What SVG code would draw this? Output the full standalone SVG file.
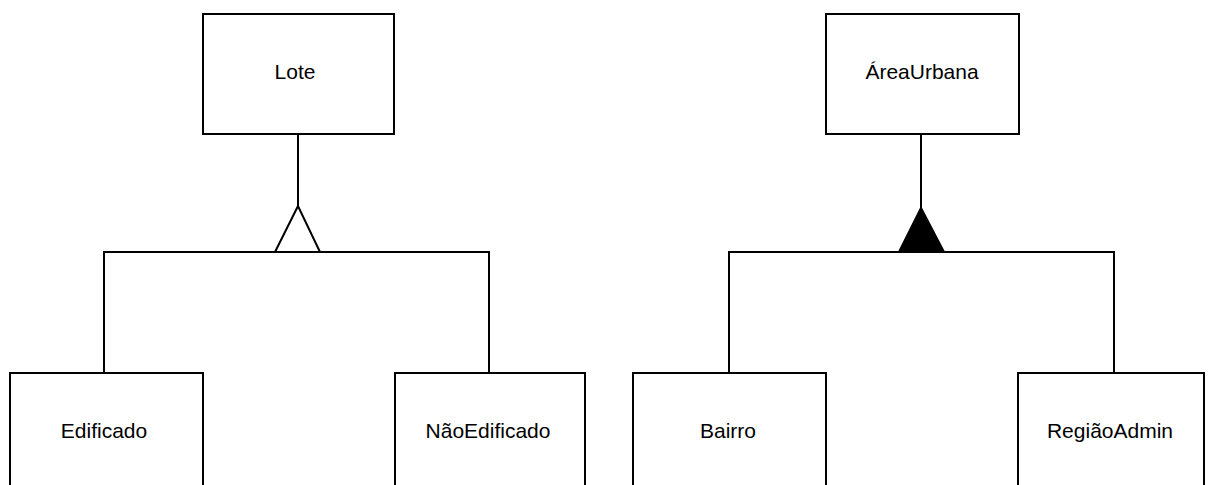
<svg xmlns="http://www.w3.org/2000/svg" width="1210" height="485" viewBox="0 0 1210 485">
  <style>
    .box { fill: #ffffff; stroke: #000000; stroke-width: 2; }
    .lbl { font-family: "Liberation Sans", Arial, sans-serif; font-size: 21px; fill: #000000; text-anchor: middle; }
    .edge { fill: none; stroke: #000000; stroke-width: 2; }
    .open { fill: #ffffff; stroke: #000000; stroke-width: 2; }
    .solid { fill: #000000; stroke: #000000; stroke-width: 2; }
  </style>
  <rect width="1210" height="485" fill="#ffffff"/>

  <g id="connectors">
    <!-- Lote generalization -->
    <line class="edge" x1="298" y1="134" x2="298" y2="206"/>
    <polyline class="edge" points="104,373 104,252 489,252 489,373"/>
    <polygon class="open" points="298,206 275,252 320,252"/>
    <!-- ÁreaUrbana generalization -->
    <line class="edge" x1="921" y1="134" x2="921" y2="208"/>
    <polyline class="edge" points="729,373 729,252 1114,252 1114,373"/>
    <polygon class="solid" points="921,208 899,252 944,252"/>
  </g>

  <g id="lote">
    <rect class="box" x="203" y="14" width="191" height="120"/>
    <text class="lbl" x="295" y="79">Lote</text>
  </g>
  <g id="areaurbana">
    <rect class="box" x="826" y="14" width="193" height="120"/>
    <text class="lbl" x="922" y="79">ÁreaUrbana</text>
  </g>
  <g id="edificado">
    <rect class="box" x="10" y="373" width="193" height="130"/>
    <text class="lbl" x="104" y="438">Edificado</text>
  </g>
  <g id="naoedificado">
    <rect class="box" x="395" y="373" width="190" height="130"/>
    <text class="lbl" x="488" y="438">NãoEdificado</text>
  </g>
  <g id="bairro">
    <rect class="box" x="633" y="373" width="193" height="130"/>
    <text class="lbl" x="728" y="438">Bairro</text>
  </g>
  <g id="regiaoadmin">
    <rect class="box" x="1018" y="373" width="186" height="130"/>
    <text class="lbl" x="1110" y="438">RegiãoAdmin</text>
  </g>
</svg>
